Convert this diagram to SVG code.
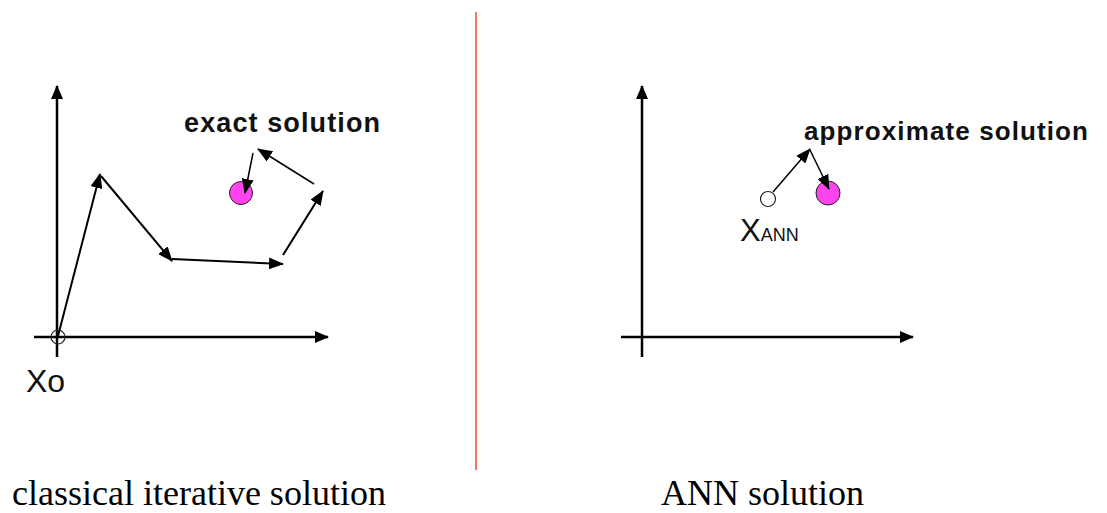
<svg xmlns="http://www.w3.org/2000/svg" width="1107" height="513" viewBox="0 0 1107 513">
<style>
.ax{stroke:#000;stroke-width:2.5;fill:none}
.ar{stroke:#000;stroke-width:2;fill:none;marker-end:url(#ah)}
.ar2{stroke:#000;stroke-width:1.5;fill:none;marker-end:url(#ah)}
.sol{fill:#ff44ee;stroke:#222;stroke-width:1}
.start{fill:none;stroke:#222;stroke-width:1.2}
.lbl{font-family:"Liberation Sans",Arial,sans-serif;font-weight:bold;fill:#111}
.sub{font-family:"Liberation Sans",Arial,sans-serif;fill:#111}
.cap{font-family:"Liberation Serif","Times New Roman",serif;font-size:36px;fill:#000}
</style>
<defs>
<marker id="ah" markerUnits="userSpaceOnUse" markerWidth="15" markerHeight="12" viewBox="0 0 15 12" refX="14" refY="6" orient="auto">
<path d="M0,0 L15,6 L0,12 z" fill="#000"/>
</marker>
<marker id="axh" markerUnits="userSpaceOnUse" markerWidth="14" markerHeight="12" viewBox="0 0 14 12" refX="13" refY="6" orient="auto">
<path d="M0,0 L14,6 L0,12 z" fill="#000"/>
</marker>
</defs>
<rect width="1107" height="513" fill="#fff"/>
<line id="divider" x1="476" y1="12" x2="476" y2="470" stroke="#f07860" stroke-width="2"/>
<g id="left-axes">
<line class="ax" x1="57" y1="357" x2="57" y2="86" marker-end="url(#axh)"/>
<line class="ax" x1="34" y1="337" x2="328" y2="337" marker-end="url(#axh)"/>
</g>
<g id="x0">
<circle class="start" cx="58" cy="337" r="7"/>
<text class="sub" x="26" y="392" font-size="32">Xo</text>
</g>
<g id="exact">
<circle class="sol" cx="241" cy="193" r="11.5"/>
<text class="lbl" x="184" y="132" font-size="27" textLength="196" lengthAdjust="spacing">exact solution</text>
</g>
<g id="iterations">
<line class="ar" x1="58" y1="336" x2="100" y2="174"/>
<line class="ar" x1="101" y1="176" x2="172" y2="261"/>
<line class="ar" x1="172" y1="259" x2="283" y2="264"/>
<line class="ar" x1="283" y1="255" x2="323" y2="191"/>
<line class="ar2" x1="314" y1="184" x2="258" y2="149"/>
<line class="ar2" x1="253" y1="153" x2="245" y2="193"/>
</g>
<g id="right-axes">
<line class="ax" x1="642" y1="357" x2="642" y2="86" marker-end="url(#axh)"/>
<line class="ax" x1="621" y1="337" x2="913" y2="337" marker-end="url(#axh)"/>
</g>
<g id="xann">
<circle class="start" cx="768" cy="199" r="7.5"/>
<text class="sub" x="740" y="241" font-size="31">X<tspan font-size="18">ANN</tspan></text>
</g>
<g id="approx">
<circle class="sol" cx="828" cy="193" r="12"/>
<text class="lbl" x="804" y="140" font-size="26" textLength="284" lengthAdjust="spacing">approximate solution</text>
</g>
<g id="ann-arrows">
<line class="ar2" x1="773" y1="192" x2="810" y2="149"/>
<line class="ar2" x1="810" y1="150" x2="829" y2="189"/>
</g>
<text id="cap-left" class="cap" x="12" y="505">classical iterative solution</text>
<text id="cap-right" class="cap" x="661" y="505">ANN solution</text>
</svg>
